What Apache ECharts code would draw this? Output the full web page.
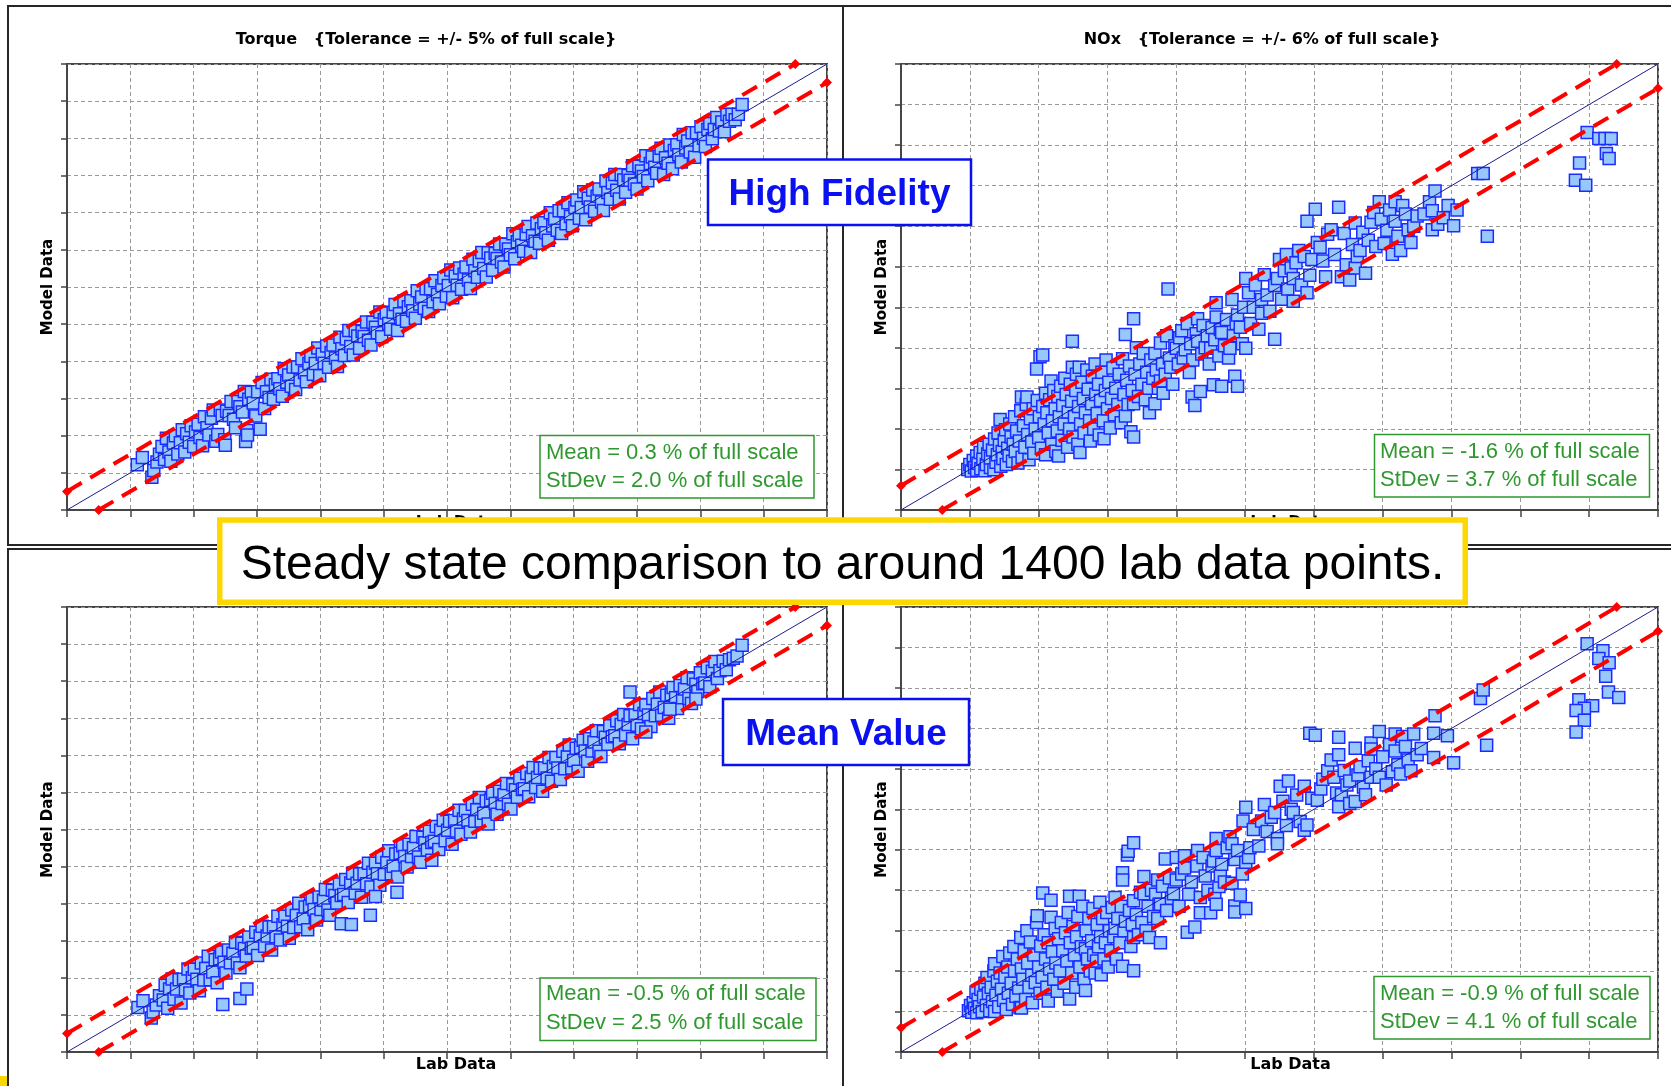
<!DOCTYPE html>
<html><head><meta charset="utf-8">
<script src="https://cdn.jsdelivr.net/npm/echarts@6/dist/echarts.min.js"></script>
<style>html,body{margin:0;padding:0;background:#fff}#c{width:1671px;height:1086px}</style>
</head><body><div id="c"></div>
<script>
// ---------- values (axis units: grid divisions) ----------
const torqueAxisMax = 12;
const noxAxisMax = 11;
const torqueTolerance = 0.5;   // +/- 5% of full scale, in grid units as drawn
const noxTolerance = 0.6;      // +/- 6% of full scale, in grid units as drawn

const panelTitles = ['Torque   {Tolerance = +/- 5% of full scale}', 'NOx   {Tolerance = +/- 6% of full scale}'];
const statsMean = ['Mean = 0.3 % of full scale', 'Mean = -1.6 % of full scale', 'Mean = -0.5 % of full scale', 'Mean = -0.9 % of full scale'];
const statsStdev = ['StDev = 2.0 % of full scale', 'StDev = 3.7 % of full scale', 'StDev = 2.5 % of full scale', 'StDev = 4.1 % of full scale'];
const modelLabels = ['High Fidelity', 'Mean Value'];
const bannerText = 'Steady state comparison to around 1400 lab data points.';

const torqueHighFidelity = [
[1.11,1.22],[1.19,1.41],[1.34,0.88],[1.37,1.06],[1.42,1.29],[1.46,1.5],
[1.50,1.71],[1.54,1.36],[1.57,1.93],[1.61,1.56],[1.64,1.31],[1.68,1.80],[1.71,2.00],[1.75,1.51],[1.79,1.81],[1.82,2.16],
[1.86,1.56],[1.89,2.05],[1.93,1.82],[1.96,2.27],[2.0,1.71],[2.03,2.10],[2.07,2.31],[2.1,1.95],[2.14,1.73],[2.17,2.51],
[2.21,2.21],[2.24,2.02],[2.28,2.47],[2.31,2.69],[2.35,1.85],[2.38,2.03],[2.42,2.69],[2.45,2.54],[2.49,1.89],[2.52,2.66],
[2.56,2.54],[2.59,2.92],[2.63,2.44],[2.66,2.21],[2.7,2.92],[2.73,2.78],[2.77,2.64],[2.8,3.19],[2.84,2.14],[2.87,2.98],
[2.91,3.17],[2.94,2.88],[2.98,2.53],[3.01,3.18],[3.05,2.17],[3.08,3.43],[3.12,2.73],[3.15,3.18],[3.19,3.03],[3.22,3.52],
[2.5,1.74],[2.82,1.84],[2.85,2.02],
[3.26,2.98],[3.29,3.37],[3.33,3.53],[3.36,3.26],[3.4,3.06],[3.43,3.80],[3.47,3.44],[3.5,3.63],[3.54,3.33],[3.57,3.85],
[3.61,3.24],[3.64,3.85],[3.68,3.50],[3.71,4.07],[3.75,3.70],[3.78,3.45],[3.82,3.94],[3.85,4.14],[3.89,3.65],[3.92,3.94],
[3.96,4.36],[3.99,3.61],[4.03,4.19],[4.06,3.95],[4.1,4.41],[4.13,3.84],[4.17,4.24],[4.2,4.44],[4.24,4.09],[4.27,3.86],
[4.31,4.65],[4.34,4.34],[4.38,4.16],[4.41,4.60],[4.45,4.83],[4.48,4.40],[4.52,4.17],[4.55,4.82],[4.59,4.68],[4.62,4.35],
[4.66,4.80],[4.69,4.67],[4.73,5.06],[4.76,4.57],[4.8,4.44],[4.83,5.05],[4.87,4.92],[4.9,4.77],[4.94,5.33],[4.97,4.66],
[5.01,5.12],[5.04,5.30],[5.08,5.02],[5.11,4.86],[5.15,5.32],[5.18,5.53],[5.22,4.83],[5.25,5.28],[5.29,5.13],[5.32,5.62],
[5.36,5.08],[5.39,5.47],[5.43,5.63],[5.46,5.36],[5.5,5.16],[5.53,5.90],[5.57,5.54],[5.6,5.73],[5.64,5.43],[5.67,5.95],
[5.71,5.34],[5.74,5.95],[5.78,5.60],[5.81,6.17],[5.85,5.80],[5.88,5.55],[5.92,6.04],[5.95,6.24],[5.99,5.75],[6.02,6.04],
[6.06,6.46],[6.09,5.71],[6.13,6.29],[6.16,6.05],[6.2,6.51],[6.23,5.94],[6.27,6.34],[6.3,6.54],[6.34,6.19],[6.37,5.96],
[6.41,6.75],[6.44,6.44],[6.48,6.26],[6.51,6.70],[6.55,6.93],[6.58,6.50],[6.62,6.27],[6.65,6.92],[6.69,6.78],[6.72,6.45],
[6.76,6.90],[6.79,6.77],[6.83,7.16],[6.86,6.67],[6.9,6.54],[6.93,7.15],[6.97,7.02],[7.0,6.87],[7.04,7.43],[7.07,6.76],
[7.11,7.22],[7.14,7.40],[7.18,7.12],[7.21,6.96],[7.25,7.42],[7.28,7.63],[7.32,6.93],[7.35,7.38],[7.39,7.23],[7.42,7.72],
[7.46,7.18],[7.49,7.57],[7.53,7.73],[7.56,7.46],[7.6,7.26],[7.63,8.00],[7.67,7.64],[7.7,7.83],[7.74,7.53],[7.77,8.05],
[7.81,7.44],[7.84,8.05],[7.88,7.70],[7.91,8.27],[7.95,7.90],[7.98,7.65],[8.02,8.14],[8.05,8.34],[8.09,7.85],[8.12,8.14],
[8.16,8.56],[8.19,7.81],[8.23,8.39],[8.26,8.15],[8.3,8.61],[8.33,8.04],[8.37,8.44],[8.4,8.64],[8.44,8.29],[8.47,8.06],
[8.51,8.85],[8.54,8.54],[8.58,8.36],[8.61,8.80],[8.65,9.03],[8.68,8.60],[8.72,8.37],[8.75,9.02],[8.79,8.88],[8.82,8.55],
[8.86,9.00],[8.89,8.87],[8.93,9.26],[8.96,8.77],[9.0,8.64],[9.03,9.25],[9.07,9.12],[9.1,8.97],[9.14,9.53],[9.17,8.86],
[9.21,9.32],[9.24,9.50],[9.28,9.22],[9.31,9.06],[9.35,9.52],[9.38,9.73],[9.42,9.03],[9.45,9.48],[9.49,9.33],[9.52,9.82],
[9.56,9.18],[9.59,9.67],[9.63,9.83],[9.66,9.56],[9.7,9.36],[9.73,10.10],[9.77,9.74],[9.8,9.93],[9.84,9.63],[9.87,10.15],
[9.91,9.49],[9.94,10.15],[9.98,9.80],[10.01,10.31],[10.05,10.00],[10.08,9.78],[10.12,10.24],[10.15,10.40],[10.19,9.99],[10.22,10.24],
[10.26,10.56],[10.3,10.20],[10.34,10.44],[10.38,10.18],[10.42,10.64],[10.46,10.46],[10.5,10.65],[10.55,10.50],[10.6,10.65],[10.66,10.91]
];

const torqueMeanValue = [
[1.12,1.2],[1.2,1.38],[1.33,0.92],[1.36,1.08],[1.41,1.27],[1.46,1.52],
[1.52,1.40],[1.55,1.80],[1.59,1.18],[1.62,1.70],[1.66,1.97],[1.69,1.42],[1.73,1.70],[1.77,1.95],[1.8,1.32],[1.84,1.96],
[1.87,1.68],[1.91,2.24],[1.94,1.59],[1.98,2.00],[2.01,2.23],[2.05,1.96],[2.09,1.65],[2.12,2.40],[2.16,1.94],[2.19,2.25],
[2.23,2.58],[2.26,1.95],[2.3,2.16],[2.34,2.49],[2.37,1.87],[2.41,2.51],[2.44,2.70],[2.48,2.42],[2.51,2.13],[2.55,2.75],
[2.58,2.41],[2.62,2.66],[2.66,2.96],[2.69,2.40],[2.73,2.27],[2.76,2.93],[2.8,2.79],[2.83,2.59],[2.87,3.10],[2.91,2.80],
[2.94,2.82],[2.98,3.23],[3.01,2.60],[3.05,3.13],[3.08,3.39],[3.12,2.85],[3.16,3.13],[3.19,3.37],[3.23,2.75],[3.26,3.38],
[3.3,3.11],[3.33,3.66],[3.37,3.02],[3.41,3.43],[3.44,3.66],[3.48,3.39],[3.51,3.07],[3.55,3.83],[3.58,3.36],[3.62,3.68],
[3.66,4.01],[3.69,3.38],[3.73,3.59],[3.76,3.91],[3.8,3.30],[3.83,3.93],[3.87,4.13],[3.9,3.84],[3.94,3.56],[3.98,4.18],
[4.01,3.84],[4.05,4.09],[4.08,4.38],[4.12,3.83],[4.15,3.69],[4.19,4.36],[4.23,4.22],[4.26,4.02],[4.3,4.53],[4.33,4.22],
[4.37,4.25],[4.4,4.65],[4.44,4.03],[4.48,4.56],[4.51,4.82],[4.55,4.28],[4.58,4.55],[4.62,4.80],[4.65,4.17],[4.69,4.81],
[4.73,4.54],[4.76,5.09],[4.8,4.45],[4.83,4.85],[4.87,5.09],[4.9,4.81],[4.94,4.50],[4.97,5.25],[5.01,4.79],[5.05,5.11],
[5.08,5.43],[5.12,4.81],[5.15,5.01],[5.19,5.34],[5.22,4.72],[5.26,5.36],[5.3,5.56],[5.33,5.27],[5.37,4.99],[5.4,5.60],
[5.44,5.27],[5.47,5.51],[5.51,5.81],[5.55,5.26],[5.58,5.12],[5.62,5.79],[5.65,5.64],[5.69,5.45],[5.72,5.95],[5.76,5.65],
[5.8,5.68],[5.83,6.08],[5.87,5.46],[5.9,5.98],[5.94,6.25],[5.97,5.70],[6.01,5.98],[6.04,6.22],[6.08,5.60],[6.12,6.24],
[6.15,5.96],[6.19,6.52],[6.22,5.87],[6.26,6.28],[6.29,6.51],[6.33,6.24],[6.37,5.93],[6.4,6.68],[6.44,6.22],[6.47,6.53],
[6.51,6.86],[6.54,6.23],[6.58,6.44],[6.62,6.77],[6.65,6.15],[6.69,6.79],[6.72,6.98],[6.76,6.70],[6.79,6.41],[6.83,7.03],
[6.87,6.70],[6.9,6.94],[6.94,7.24],[6.97,6.68],[7.01,6.55],[7.04,7.21],[7.08,7.07],[7.11,6.87],[7.15,7.38],[7.19,7.08],
[7.22,7.10],[7.26,7.51],[7.29,6.88],[7.33,7.41],[7.36,7.67],[7.4,7.13],[7.43,7.40],[7.47,7.65],[7.51,7.03],[7.54,7.66],
[7.58,7.39],[7.61,7.94],[7.65,7.30],[7.68,7.70],[7.72,7.94],[7.75,7.66],[7.79,7.35],[7.83,8.11],[7.86,7.64],[7.9,7.96],
[7.93,8.28],[7.97,7.66],[8.0,7.86],[8.04,8.19],[8.07,7.57],[8.11,8.21],[8.15,8.41],[8.18,8.12],[8.22,7.84],[8.25,8.45],
[8.29,8.12],[8.32,8.36],[8.36,8.66],[8.4,8.11],[8.43,7.97],[8.47,8.64],[8.5,8.49],[8.54,8.30],[8.57,8.80],[8.61,8.50],
[8.65,8.53],[8.68,8.93],[8.72,8.31],[8.75,8.83],[8.79,9.10],[8.82,8.55],[8.86,8.83],[8.89,9.07],[8.93,8.45],[8.97,9.09],
[9.0,8.81],[9.04,9.37],[9.07,8.72],[9.11,9.13],[9.14,9.36],[9.18,9.09],[9.22,8.78],[9.25,9.53],[9.29,9.07],[9.32,9.38],
[9.36,9.71],[9.39,9.08],[9.43,9.29],[9.47,9.62],[9.5,9.00],[9.54,9.64],[9.57,9.83],[9.61,9.55],[9.64,9.26],[9.68,9.88],
[9.72,9.55],[9.75,9.79],[9.79,10.09],[9.82,9.53],[9.86,9.40],[9.89,10.06],[9.93,9.92],[9.96,9.72],[10.0,10.23],[10.04,9.93],
[10.07,9.95],[10.11,10.36],[10.15,9.85],[10.19,10.27],[10.23,10.53],[10.27,10.07],[10.31,10.28],[10.36,10.54],[10.41,10.31],[10.46,10.58],
[10.52,10.62],[10.58,10.68],[10.66,10.97],
[2.46,1.28],[2.73,1.44],[2.84,1.7],[4.33,3.46],[4.49,3.44],[4.79,3.69],[4.87,4.19],[5.21,4.31],[5.76,5.17],[9.14,8.63],[8.89,9.71],[9.52,9.24],[9.93,9.52]
];

const noxHighFidelity = [
[0.97,1.0],[1.0,1.12],[1.02,0.96],[1.05,1.22],[1.07,1.05],[1.1,1.33],[1.1,0.98],[1.12,1.15],
[1.15,1.42],[1.16,1.02],[1.19,1.25],[1.2,1.55],[1.22,0.97],[1.24,1.12],[1.26,1.38],[1.28,1.62],[1.3,1.05],[1.3,1.28],
[1.33,1.48],[1.35,0.99],[1.36,1.75],[1.38,1.18],[1.4,1.36],[1.41,1.9],[1.43,1.6],[1.44,2.23],[1.45,1.08],[1.47,1.44],[1.48,1.27],[1.5,1.72],
[1.52,1.98],[1.53,1.12],[1.55,1.52],[1.57,1.34],[1.58,2.12],[1.6,1.8],[1.62,1.2],[1.63,1.62],[1.65,2.3],[1.66,1.44],[1.68,1.95],[1.7,1.16],
[1.72,1.7],[1.74,2.45],[1.75,2.79],[1.76,1.3],[1.78,2.08],[1.8,1.55],[1.82,2.6],[1.83,2.79],[1.84,1.86],[1.86,1.24],[1.88,2.25],[1.9,1.68],
[1.92,2.5],[1.93,1.4],[1.95,2.0],[1.97,3.48],[1.98,2.7],[2.0,1.78],[2.01,2.3],[2.02,3.78],[2.04,1.52],[2.06,3.82],[2.06,2.55],[2.08,2.12],[2.1,2.88],[2.1,1.36],
[2.12,2.4],[2.14,1.9],[2.16,2.72],[2.18,3.18],[2.19,1.62],[2.2,2.2],[2.22,2.95],[2.24,2.5],[2.25,1.45],[2.27,1.95],[2.28,2.8],[2.29,1.33],[2.3,2.3],
[2.32,3.05],[2.34,1.72],[2.35,2.58],[2.37,2.12],[2.38,3.25],[2.4,2.85],[2.42,1.55],[2.43,2.42],[2.45,2.0],[2.46,3.1],[2.48,2.68],[2.49,4.16],[2.49,3.52],[2.5,1.8],
[2.52,2.3],[2.54,2.95],[2.55,3.35],[2.57,1.62],[2.58,2.55],[2.59,3.52],[2.6,1.42],[2.61,2.12],[2.63,3.15],[2.65,2.75],[2.66,1.9],[2.68,2.4],[2.7,3.45],
[2.72,2.98],[2.74,2.2],[2.75,1.7],[2.77,2.62],[2.78,3.3],[2.8,2.0],[2.82,3.6],[2.83,2.85],[2.85,2.38],[2.87,3.1],[2.88,1.85],[2.9,2.7],
[2.92,3.4],[2.94,2.2],[2.95,1.76],[2.97,2.95],[2.98,3.7],[3.0,2.5],[3.02,3.15],[3.04,2.02],[3.06,2.75],[3.08,3.5],[3.1,2.35],
[3.12,3.0],[3.15,2.6],[3.17,3.35],[3.2,2.15],[3.22,3.73],[3.24,2.85],[3.26,4.33],[3.26,2.32],[3.28,3.2],[3.3,2.6],[3.32,3.55],[3.34,1.93],[3.36,2.95],[3.38,4.72],[3.38,1.8],[3.38,2.62],[3.4,3.35],[3.42,4.0],[3.45,2.8],[3.47,3.6],[3.5,3.1],[3.52,3.86],[3.55,2.72],[3.57,3.4],[3.6,3.0],[3.61,2.4],[3.63,3.7],[3.66,3.25],[3.69,3.86],[3.69,2.62],[3.71,3.45],[3.74,3.0],[3.77,4.12],[3.77,3.18],[3.8,3.6],[3.81,2.88],[3.84,3.35],[3.86,4.3],[3.88,5.45],[3.9,3.75],[3.92,3.52],[3.95,3.1],[3.98,4.05],[4.0,3.99],
[4.03,3.6],[4.05,4.25],[4.08,4.42],[4.1,3.75],[4.13,3.95],[4.16,4.6],[4.19,3.39],[4.21,4.1],[4.23,2.79],[4.24,3.7],[4.27,2.58],[4.29,4.35],[4.31,4.72],[4.31,4.16],[4.35,2.92],[4.37,3.85],[4.39,4.55],[4.42,4.0],[4.45,4.3],[4.48,3.6],[4.5,3.99],[4.52,4.5],[4.54,3.09],[4.56,4.2],[4.58,5.11],[4.58,4.76],[4.62,3.8],[4.64,4.45],[4.66,4.38],[4.66,3.05],[4.7,4.05],[4.73,4.7],[4.76,3.75],[4.78,3.99],[4.81,5.19],[4.83,4.3],[4.85,3.30],[4.87,4.6],[4.89,4.81],[4.89,3.05],[4.93,4.51],[4.96,4.1],[4.98,5.0],
[5.01,3.99],[5.01,5.71],[5.05,5.36],[5.08,4.6],[5.12,5.0],[5.15,5.55],[5.2,4.46],[5.24,5.19],[5.24,4.85],[5.28,5.8],[5.32,5.3],[5.36,4.9],[5.43,5.54],[5.43,4.21],[5.47,5.71],[5.5,6.18],[5.53,5.2],[5.57,5.9],[5.6,6.3],[5.62,5.45],[5.67,5.97],[5.7,5.71],[5.7,5.15],[5.74,6.1],[5.78,6.4],[5.82,5.55],[5.86,6.25],[5.9,5.36],[5.9,7.12],[5.94,5.79],[5.97,6.18],[6.02,7.42],
[6.05,6.6],[6.09,6.48],[6.13,6.14],[6.17,5.75],[6.2,6.8],[6.25,6.91],[6.3,6.3],[6.36,7.47],[6.4,5.75],[6.44,6.82],[6.47,6.05],[6.52,5.67],[6.56,6.55],[6.6,5.97],[6.6,7.08],[6.63,6.25],[6.67,6.4],[6.71,6.85],[6.75,5.84],[6.79,6.65],[6.83,7.1],[6.87,7.34],[6.9,6.5],[6.95,7.6],[6.98,7.17],
[7.02,6.57],[7.06,6.9],[7.1,7.4],[7.14,6.31],[7.18,7.6],[7.18,7.12],[7.22,6.75],[7.26,6.4],[7.29,7.51],[7.33,7.3],[7.37,6.91],[7.41,6.6],[7.45,7.0],[7.5,7.25],[7.6,7.3],[7.68,7.6],[7.72,6.91],[7.72,7.38],[7.76,7.87],[7.8,7.05],[7.88,7.21],[7.95,7.51],[8.03,7.01],[8.08,7.4],[8.38,8.3],[8.46,8.3],[8.52,6.75],
[9.97,9.31],[10.14,9.16],[10.23,9.16],[10.32,9.16],[10.25,8.79],[10.29,8.67],[9.86,8.56],[9.8,8.13],[9.95,8.01]
];

const noxMeanValue = [
[0.98,1.02],[1.01,1.15],[1.03,0.98],[1.05,1.22],[1.07,1.08],[1.09,1.48],[1.1,0.97],[1.12,1.3],[1.14,1.12],
[1.16,1.55],[1.18,1.0],[1.2,1.36],[1.22,1.7],[1.24,1.15],[1.25,1.84],[1.27,1.45],[1.29,1.02],[1.31,1.6],[1.33,1.25],[1.35,2.0],
[1.36,1.0],[1.36,2.18],[1.38,1.4],[1.4,1.75],[1.42,1.12],[1.44,1.95],[1.46,1.55],[1.48,2.36],[1.49,1.28],[1.51,1.85],[1.53,1.05],[1.55,2.1],
[1.56,1.45],[1.58,2.45],[1.6,1.7],[1.62,1.18],[1.64,2.61],[1.65,2.0],[1.67,1.38],[1.69,2.3],[1.71,1.58],[1.73,1.1],[1.74,2.83],[1.75,1.09],[1.75,2.05],
[1.77,1.8],[1.79,2.5],[1.81,1.3],[1.83,3.0],[1.84,2.2],[1.86,1.6],[1.88,2.72],[1.9,1.9],[1.91,1.22],[1.93,2.4],[1.95,1.72],
[1.97,3.2],[1.98,3.37],[2.0,2.1],[2.02,1.45],[2.03,2.62],[2.05,1.85],[2.06,3.93],[2.08,2.9],[2.1,2.3],[2.12,1.6],[2.14,1.26],[2.14,2.7],
[2.16,2.05],[2.18,3.75],[2.18,3.33],[2.2,2.48],[2.22,1.8],[2.24,3.05],[2.25,2.2],[2.27,1.5],[2.29,2.8],[2.31,2.0],[2.33,3.2],[2.35,2.5],
[2.37,1.7],[2.39,2.95],[2.41,2.25],[2.43,3.45],[2.45,1.31],[2.45,3.85],[2.46,2.7],[2.48,1.95],[2.5,3.1],[2.52,2.4],[2.54,1.6],[2.55,2.85],
[2.57,3.35],[2.59,3.85],[2.6,2.1],[2.62,2.6],[2.64,3.6],[2.66,1.8],[2.68,1.52],[2.68,2.55],[2.69,3.0],[2.71,2.3],[2.73,3.3],[2.75,2.0],
[2.77,2.75],[2.79,3.55],[2.8,2.4],[2.82,1.95],[2.84,2.25],[2.85,3.15],[2.87,2.6],[2.89,3.7],[2.9,2.85],[2.91,1.91],[2.93,3.3],[2.95,2.3],
[2.97,2.7],[2.99,3.45],[3.01,2.1],[3.03,3.0],[3.05,2.5],[3.07,3.57],[3.09,2.85],[3.11,3.82],[3.11,3.06],[3.13,2.3],[3.15,3.3],
[3.18,2.7],[3.2,3.6],[3.22,4.43],[3.22,4.25],[3.22,2.12],[3.24,3.0],[3.26,3.23],[3.29,4.87],[3.3,4.96],[3.32,3.5],[3.34,2.61],[3.36,3.15],[3.38,5.17],[3.38,2.83],[3.38,3.74],[3.38,2.01],[3.42,3.4],[3.45,2.9],[3.48,3.95],[3.5,3.2],[3.53,4.34],[3.53,3.91],[3.56,3.0],[3.59,3.6],[3.61,2.83],[3.64,4.0],[3.67,3.35],[3.7,3.9],[3.73,4.25],[3.73,3.3],[3.75,3.65],[3.77,2.7],[3.77,3.65],[3.8,4.1],[3.84,4.77],[3.86,3.5],[3.9,4.3],[3.93,3.8],[3.96,3.91],[4.0,4.81],[4.0,4.25],[4.04,3.6],
[4.08,4.4],[4.12,4.85],[4.12,4.55],[4.16,2.96],[4.18,3.9],[4.22,4.2],[4.27,3.09],[4.3,4.6],[4.31,4.98],[4.35,3.82],[4.35,3.44],[4.39,4.81],[4.42,4.35],[4.46,4.0],[4.5,3.44],[4.52,4.6],[4.54,4.72],[4.56,3.9],[4.58,5.28],[4.58,4.98],[4.58,3.65],[4.62,4.09],[4.64,4.35],[4.66,4.64],[4.7,4.2],[4.74,5.05],[4.78,5.32],[4.81,5.15],[4.81,4.17],[4.85,4.76],[4.85,3.61],[4.85,3.46],[4.89,4.98],[4.93,3.88],[4.96,4.4],[5.01,4.69],[5.01,3.55],[5.05,4.81],
[4.97,5.71],[5.01,6.05],[5.07,5.05],[5.12,5.5],[5.2,5.09],[5.24,5.71],[5.28,6.12],[5.32,5.45],[5.38,5.8],[5.43,5.92],[5.47,5.28],[5.47,5.15],[5.51,6.57],[5.55,6.2],[5.6,5.6],[5.63,6.7],[5.67,6.0],[5.7,5.92],[5.75,6.35],[5.8,5.7],[5.86,6.57],[5.86,5.48],[5.9,5.61],[5.94,7.88],[5.97,6.27],
[6.02,7.83],[6.05,6.22],[6.1,6.5],[6.13,6.74],[6.2,6.95],[6.25,7.22],[6.29,6.79],[6.33,6.4],[6.36,7.35],[6.36,7.78],[6.36,6.06],[6.4,6.36],[6.44,6.96],[6.48,6.6],[6.52,6.7],[6.52,6.14],[6.6,7.51],[6.6,6.19],[6.64,6.85],[6.67,7.05],[6.72,6.55],[6.75,6.36],[6.79,7.2],[6.83,7.64],[6.83,7.49],[6.83,6.79],[6.9,7.0],[6.95,7.92],[6.95,6.79],
[7.0,7.3],[7.05,6.6],[7.1,7.6],[7.14,6.93],[7.18,7.86],[7.18,7.44],[7.22,7.1],[7.26,6.87],[7.29,7.8],[7.33,7.55],[7.37,7.22],[7.41,6.95],[7.45,7.86],[7.5,7.35],[7.56,7.5],[7.74,7.88],[7.74,7.28],[7.76,8.31],[7.94,7.82],[8.03,7.15],[8.42,8.74],[8.46,8.95],[8.51,7.58],
[9.97,10.09],[10.2,9.92],[10.14,9.73],[10.29,9.62],[10.24,9.29],[10.28,8.9],[10.43,8.76],[9.85,8.71],[10.05,8.56],[9.93,8.5],[9.81,8.44],[9.93,8.2],[9.81,7.91]
];

// ---------- layout ----------
const panels = [
  {data: torqueHighFidelity, max: torqueAxisMax, tol: torqueTolerance, grid: {left: 67, top: 64, width: 760, height: 446}, namePad: 18},
  {data: noxHighFidelity,    max: noxAxisMax,    tol: noxTolerance,    grid: {left: 901, top: 64, width: 757, height: 446}, namePad: 22},
  {data: torqueMeanValue,    max: torqueAxisMax, tol: torqueTolerance, grid: {left: 67, top: 607, width: 760, height: 445}, namePad: 18},
  {data: noxMeanValue,       max: noxAxisMax,    tol: noxTolerance,    grid: {left: 901, top: 607, width: 757, height: 445}, namePad: 22}
];

const axisColor = '#464646';
const grids = [], xAxes = [], yAxes = [], series = [];
panels.forEach((p, i) => {
  grids.push(Object.assign({show: true, borderColor: axisColor, borderWidth: 2, backgroundColor: '#fff'}, p.grid));
  xAxes.push({
    gridIndex: i, type: 'value', min: 0, max: p.max, interval: 1,
    name: 'Lab Data', nameLocation: 'middle', nameGap: 5,
    nameTextStyle: {fontFamily: 'DejaVu Sans', fontWeight: 'bold', fontSize: 16, color: '#000', padding: [0, 0, 0, p.namePad]},
    axisLine: {onZero: false, lineStyle: {color: axisColor, width: 2}},
    axisTick: {show: true, length: 7, lineStyle: {color: axisColor, width: 1.5}},
    axisLabel: {show: false},
    splitLine: {show: true, lineStyle: {color: '#9a9a9a', width: 1, type: [4, 3]}}
  });
  yAxes.push({
    gridIndex: i, type: 'value', min: 0, max: p.max, interval: 1,
    name: 'Model Data', nameLocation: 'middle', nameGap: 11,
    nameTextStyle: {fontFamily: 'DejaVu Sans', fontWeight: 'bold', fontSize: 15, color: '#000'},
    axisLine: {onZero: false, lineStyle: {color: axisColor, width: 2}},
    axisTick: {show: true, length: 6, lineStyle: {color: axisColor, width: 1.5}},
    axisLabel: {show: false},
    splitLine: {show: true, lineStyle: {color: '#9a9a9a', width: 1, type: [4, 3]}}
  });
  series.push({
    type: 'scatter', xAxisIndex: i, yAxisIndex: i, data: p.data, symbol: 'rect', symbolSize: 12, z: 2,
    itemStyle: {color: '#98c8fb', borderColor: '#1a2cff', borderWidth: 1.5, opacity: 1}
  });
  series.push({
    type: 'line', xAxisIndex: i, yAxisIndex: i, data: [[0, 0], [p.max, p.max]], symbol: 'none', z: 4,
    lineStyle: {color: '#1c1c8c', width: 1}
  });
  series.push({
    type: 'line', xAxisIndex: i, yAxisIndex: i, data: [[0, p.tol], [p.max - p.tol, p.max]], clip: false, z: 5,
    symbol: 'diamond', symbolSize: 10, itemStyle: {color: '#ff0000'},
    lineStyle: {color: '#ff0000', width: 4, type: [17, 10]}
  });
  series.push({
    type: 'line', xAxisIndex: i, yAxisIndex: i, data: [[p.tol, 0], [p.max, p.max - p.tol]], clip: false, z: 5,
    symbol: 'diamond', symbolSize: 10, itemStyle: {color: '#ff0000'},
    lineStyle: {color: '#ff0000', width: 4, type: [17, 10]}
  });
});

const green = '#2f982f';
const blue = '#0a10f0';
const statBoxes = [
  {x: 540, y: 435.5, w: 274, h: 62.5, tx: 546, t1: 452.5, t2: 481},
  {x: 1374.5, y: 434.5, w: 275, h: 62.5, tx: 1380, t1: 451.5, t2: 480},
  {x: 540, y: 978, w: 276, h: 62.5, tx: 546, t1: 994, t2: 1023},
  {x: 1374, y: 976.5, w: 276, h: 62.5, tx: 1380, t1: 993.5, t2: 1022}
];

const graphic = [];
// panel frames
[[8, 6, 835, 539], [843, 6, 840, 539], [8, 549, 835, 550], [843, 549, 840, 550]].forEach(r => {
  graphic.push({type: 'rect', z: 1, shape: {x: r[0], y: r[1], width: r[2], height: r[3]},
    style: {fill: 'none', stroke: '#262626', lineWidth: 2}});
});
// titles
graphic.push({type: 'text', z: 100, x: 426, y: 39.5, style: {text: panelTitles[0], fontFamily: 'DejaVu Sans', fontWeight: 'bold', fontSize: 16, fill: '#000', align: 'center', verticalAlign: 'middle'}});
graphic.push({type: 'text', z: 100, x: 1262, y: 39.5, style: {text: panelTitles[1], fontFamily: 'DejaVu Sans', fontWeight: 'bold', fontSize: 16, fill: '#000', align: 'center', verticalAlign: 'middle'}});
// stats boxes
statBoxes.forEach((b, i) => {
  graphic.push({type: 'rect', z: 100, shape: {x: b.x, y: b.y, width: b.w, height: b.h}, style: {fill: '#fff', stroke: green, lineWidth: 1.5}});
  graphic.push({type: 'text', z: 101, x: b.tx, y: b.t1, style: {text: statsMean[i], fontFamily: 'Liberation Sans', fontSize: 22, fill: green, align: 'left', verticalAlign: 'middle'}});
  graphic.push({type: 'text', z: 101, x: b.tx, y: b.t2, style: {text: statsStdev[i], fontFamily: 'Liberation Sans', fontSize: 22, fill: green, align: 'left', verticalAlign: 'middle'}});
});
// model-type labels
[{x: 708, y: 159.5, w: 263, h: 65.5, cx: 839.5, cy: 195, t: modelLabels[0]},
 {x: 723, y: 699, w: 246, h: 66, cx: 846, cy: 735, t: modelLabels[1]}].forEach(b => {
  graphic.push({type: 'rect', z: 110, shape: {x: b.x, y: b.y, width: b.w, height: b.h}, style: {fill: '#fff', stroke: blue, lineWidth: 2.5}});
  graphic.push({type: 'text', z: 111, x: b.cx, y: b.cy, style: {text: b.t, fontFamily: 'Liberation Sans', fontWeight: 'bold', fontSize: 37, fill: blue, align: 'center', verticalAlign: 'middle'}});
});
// banner
graphic.push({type: 'rect', z: 120, shape: {x: 219.75, y: 520, width: 1245.5, height: 82.3}, style: {fill: '#fff', stroke: '#ffd700', lineWidth: 5.5}});
graphic.push({type: 'text', z: 121, x: 842.5, y: 565.5, style: {text: bannerText, fontFamily: 'Liberation Sans', fontSize: 48, fill: '#000', align: 'center', verticalAlign: 'middle'}});
// small yellow corner mark
graphic.push({type: 'rect', z: 120, shape: {x: 0, y: 1076, width: 7, height: 10}, style: {fill: '#ffd700'}});

const chart = echarts.init(document.getElementById('c'), null, {renderer: 'canvas'});
chart.setOption({
  animation: false,
  backgroundColor: '#fff',
  grid: grids, xAxis: xAxes, yAxis: yAxes, series: series,
  graphic: graphic
});
</script>
</body></html>
